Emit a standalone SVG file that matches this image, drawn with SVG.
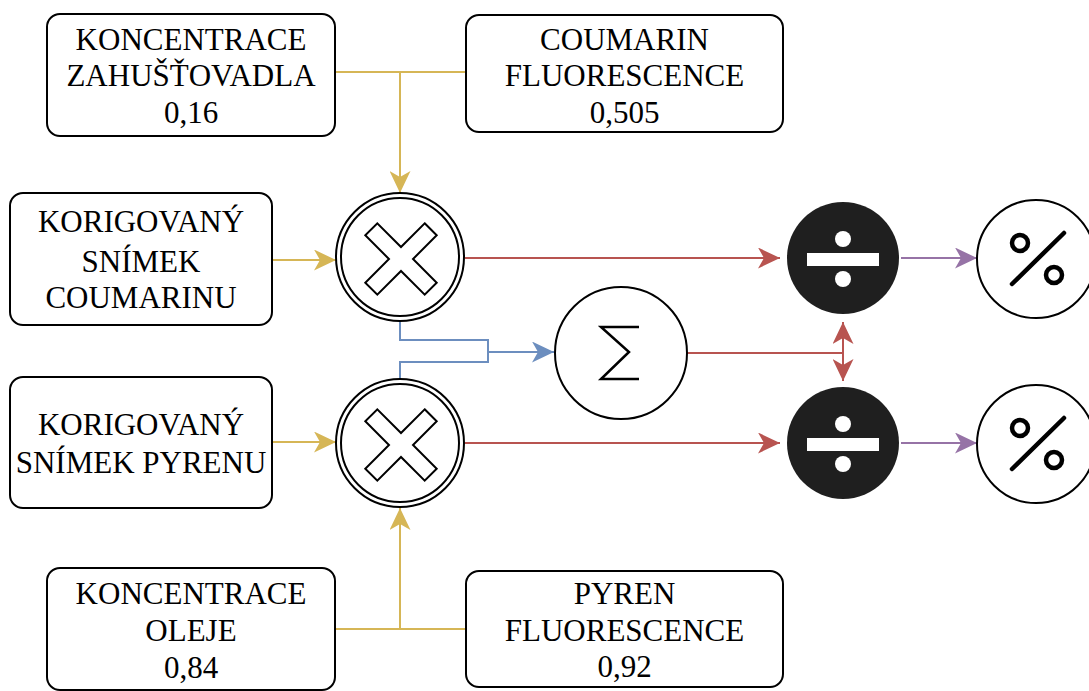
<svg xmlns="http://www.w3.org/2000/svg" width="1089" height="691" viewBox="0 0 1089 691">
<defs>
<style>
.box{fill:#fff;stroke:#000;stroke-width:2}
.t{font-family:"Liberation Serif","Times New Roman",serif;font-size:31px;fill:#000;text-anchor:middle}
.y{fill:none;stroke:#d6b656;stroke-width:2}
.r{fill:none;stroke:#b85450;stroke-width:2}
.b{fill:none;stroke:#6c8ebf;stroke-width:2}
.p{fill:none;stroke:#9673a6;stroke-width:2}
.ring{fill:#fff;stroke:#000;stroke-width:2}
.pc{fill:none;stroke:#000;stroke-width:4.5}
</style>
<marker id="ay" viewBox="0 0 22 21" refX="22" refY="10.5" markerWidth="22" markerHeight="21" markerUnits="userSpaceOnUse" orient="auto"><path d="M0,0 L22,10.5 L0,21 L6,10.5 Z" fill="#d6b656"/></marker>
<marker id="ar" viewBox="0 0 22 21" refX="22" refY="10.5" markerWidth="22" markerHeight="21" markerUnits="userSpaceOnUse" orient="auto"><path d="M0,0 L22,10.5 L0,21 L6,10.5 Z" fill="#b85450"/></marker>
<marker id="ab" viewBox="0 0 22 21" refX="22" refY="10.5" markerWidth="22" markerHeight="21" markerUnits="userSpaceOnUse" orient="auto"><path d="M0,0 L22,10.5 L0,21 L6,10.5 Z" fill="#6c8ebf"/></marker>
<marker id="ap" viewBox="0 0 22 21" refX="22" refY="10.5" markerWidth="22" markerHeight="21" markerUnits="userSpaceOnUse" orient="auto"><path d="M0,0 L22,10.5 L0,21 L6,10.5 Z" fill="#9673a6"/></marker>
</defs>
<rect width="1089" height="691" fill="#fff"/>
<g id="connectors">
<path class="y" d="M335,72 H466"/>
<path class="y" d="M400,72 V193" marker-end="url(#ay)"/>
<path class="y" d="M272,260 H336" marker-end="url(#ay)"/>
<path class="y" d="M272,442 H336" marker-end="url(#ay)"/>
<path class="y" d="M335,629 H466"/>
<path class="y" d="M400,629 V508" marker-end="url(#ay)"/>
<path class="r" d="M465,258 H780" marker-end="url(#ar)"/>
<path class="r" d="M465,443 H780" marker-end="url(#ar)"/>
<path class="b" d="M400,321 V340 H488 V352 H554" marker-end="url(#ab)"/>
<path class="b" d="M400,382 V362 H488 V352"/>
<path class="r" d="M687,353 H843"/>
<path class="r" d="M843,353 V322" marker-end="url(#ar)"/>
<path class="r" d="M843,353 V381" marker-end="url(#ar)"/>
<path class="p" d="M901,258 H977" marker-end="url(#ap)"/>
<path class="p" d="M901,443 H977" marker-end="url(#ap)"/>
</g>
<g id="box-zahustovadla">
<rect class="box" x="47" y="14" width="288" height="122" rx="13"/>
<text class="t"><tspan x="191" y="50">KONCENTRACE</tspan><tspan x="191" y="86">ZAHUŠŤOVADLA</tspan><tspan x="191" y="123">0,16</tspan></text>
</g>
<g id="box-coumarin-fl">
<rect class="box" x="466" y="15" width="317" height="117" rx="13"/>
<text class="t"><tspan x="624.5" y="50">COUMARIN</tspan><tspan x="624.5" y="86">FLUORESCENCE</tspan><tspan x="624.5" y="123">0,505</tspan></text>
</g>
<g id="box-coumarinu">
<rect class="box" x="10" y="193" width="262" height="132" rx="13"/>
<text class="t"><tspan x="141" y="232">KORIGOVANÝ</tspan><tspan x="141" y="272">SNÍMEK</tspan><tspan x="141" y="308">COUMARINU</tspan></text>
</g>
<g id="box-pyrenu">
<rect class="box" x="10" y="377" width="262" height="131" rx="13"/>
<text class="t"><tspan x="141" y="435">KORIGOVANÝ</tspan><tspan x="141" y="473">SNÍMEK PYRENU</tspan></text>
</g>
<g id="box-oleje">
<rect class="box" x="47" y="568" width="288" height="122" rx="13"/>
<text class="t"><tspan x="191" y="604">KONCENTRACE</tspan><tspan x="191" y="641">OLEJE</tspan><tspan x="191" y="678">0,84</tspan></text>
</g>
<g id="box-pyren-fl">
<rect class="box" x="466" y="571" width="317" height="116" rx="13"/>
<text class="t"><tspan x="624.5" y="604">PYREN</tspan><tspan x="624.5" y="641">FLUORESCENCE</tspan><tspan x="624.5" y="677">0,92</tspan></text>
</g>
<g id="mult-top">
<circle class="ring" cx="400" cy="257" r="64"/>
<circle class="ring" cx="400" cy="257" r="59"/>
<polygon class="ring" transform="translate(401,259) rotate(45)" points="-8.5,-42 8.5,-42 8.5,-8.5 42,-8.5 42,8.5 8.5,8.5 8.5,42 -8.5,42 -8.5,8.5 -42,8.5 -42,-8.5 -8.5,-8.5"/>
</g>
<g id="mult-bottom">
<circle class="ring" cx="400" cy="443" r="64"/>
<circle class="ring" cx="400" cy="443" r="59"/>
<polygon class="ring" transform="translate(401,445) rotate(45)" points="-8.5,-42 8.5,-42 8.5,-8.5 42,-8.5 42,8.5 8.5,8.5 8.5,42 -8.5,42 -8.5,8.5 -42,8.5 -42,-8.5 -8.5,-8.5"/>
</g>
<g id="sum">
<circle class="ring" cx="621" cy="353" r="66"/>
<path d="M639,327 H601 L629,352 L601,379 H639" fill="none" stroke="#000" stroke-width="2.5"/>
</g>
<g id="div-top">
<circle cx="843" cy="258" r="56" fill="#1f1f1f"/>
<rect x="807" y="253" width="72" height="13" fill="#fff"/>
<circle cx="843" cy="239" r="8" fill="#fff"/>
<circle cx="843" cy="279" r="8" fill="#fff"/>
</g>
<g id="div-bottom">
<circle cx="843" cy="443" r="56" fill="#1f1f1f"/>
<rect x="807" y="438" width="72" height="13" fill="#fff"/>
<circle cx="843" cy="424" r="8" fill="#fff"/>
<circle cx="843" cy="464" r="8" fill="#fff"/>
</g>
<g id="pct-top">
<circle class="ring" cx="1036" cy="259" r="59"/>
<circle class="pc" cx="1020" cy="243" r="8"/>
<circle class="pc" cx="1054" cy="275" r="8"/>
<line class="pc" x1="1012" y1="284" x2="1064" y2="233" stroke-linecap="round"/>
</g>
<g id="pct-bottom">
<circle class="ring" cx="1036" cy="444" r="59"/>
<circle class="pc" cx="1020" cy="428" r="8"/>
<circle class="pc" cx="1054" cy="460" r="8"/>
<line class="pc" x1="1012" y1="469" x2="1064" y2="418" stroke-linecap="round"/>
</g>
</svg>
